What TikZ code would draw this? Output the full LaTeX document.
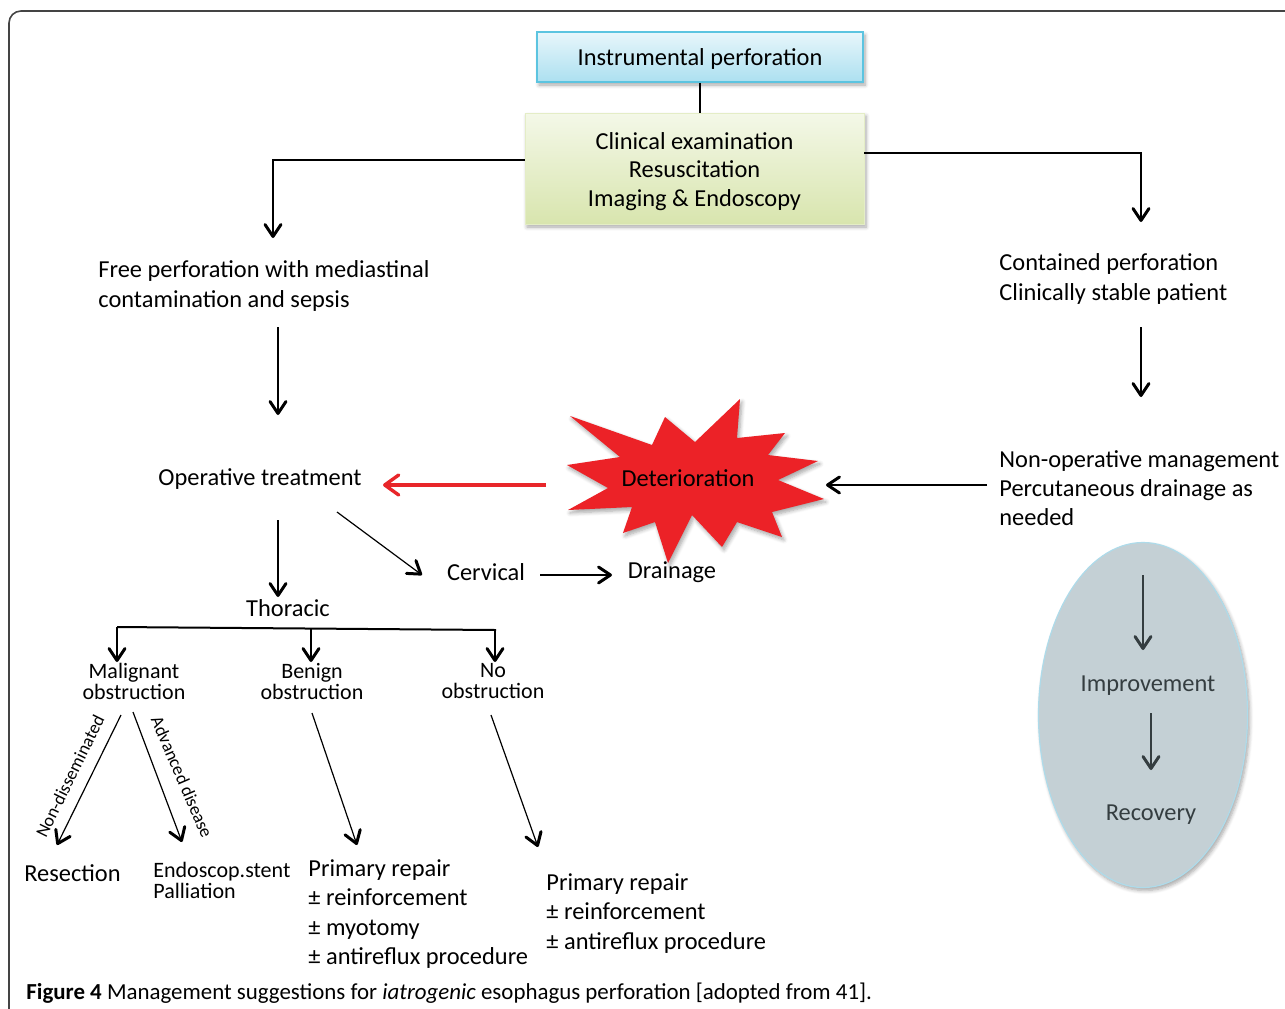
\documentclass[tikz,border=0pt]{standalone}
\usepackage{fontspec}
\setmainfont{Carlito}
\usetikzlibrary{arrows.meta,shapes.geometric,shadows,shadows.blur,calc}
\definecolor{boxA1}{HTML}{E8F6FB}
\definecolor{boxA2}{HTML}{ACE0F0}
\definecolor{boxAb}{HTML}{5CC4E0}
\definecolor{boxB1}{HTML}{F4F8E8}
\definecolor{boxB2}{HTML}{D8E5AE}
\definecolor{starred}{HTML}{EC2227}
\definecolor{arrred}{HTML}{E8262A}
\definecolor{ellfill}{HTML}{C4D0D5}
\definecolor{ellline}{HTML}{AEDBEA}
\definecolor{elltext}{HTML}{343D40}
\definecolor{framec}{HTML}{444444}
\newcommand\fbig{\fontsize{12.2}{14.6}\selectfont}
\newcommand\fmid{\fontsize{11}{10.5}\selectfont}
\newcommand\fsml{\fontsize{9}{10}\selectfont}
\tikzset{
  txt/.style={inner sep=0pt, font=\fbig, align=left},
  ctxt/.style={inner sep=0pt, font=\fmid, align=center},
  arr/.style={line width=0.6pt, -{Straight Barb[length=6pt,width=8pt,line width=1.5pt,round]}},
  barr/.style={line width=1pt, -{Straight Barb[length=6pt,width=8pt,line width=1.5pt,round]}},
  rarr/.style={line width=1.8pt, draw=arrred, -{Straight Barb[length=7pt,width=10pt,line width=1.7pt,round]}},
  garr/.style={line width=1pt, draw=elltext, -{Straight Barb[length=6pt,width=8pt,line width=1.5pt,round]}},
  shad/.style={blur shadow={shadow blur steps=6, shadow xshift=1pt, shadow yshift=-1.5pt, shadow opacity=35}},
}
\begin{document}
\begin{tikzpicture}[x=0.5pt,y=-0.5pt]
\useasboundingbox (0,0) rectangle (1285,1008);
% frame
\draw[framec, line width=0.8pt, rounded corners=6pt] (9,1010) -- (9,11) -- (1290,11);

% boxes
\node[shad, draw=boxAb, line width=0.6pt, top color=boxA1, bottom color=boxA2,
      minimum width=163pt, minimum height=25pt, inner sep=0pt] (top) at (700,57) {};
\node[txt] (toptext) at (700,59) {Instrumental perforation};
\node[shad, top color=boxB1, bottom color=boxB2, draw=boxB2!70!white, line width=0.3pt,
      minimum width=169.5pt, minimum height=55.5pt, inner sep=0pt] (clin) at (694.5,168.5) {};
\node[inner sep=0pt, font=\fontsize{12.2}{14.3}\selectfont, align=center] (clintext) at (694.5,171.5)
      {Clinical examination\\Resuscitation\\Imaging \& Endoscopy};

% text nodes
\node[txt, anchor=west] (free) at (98,286) {Free perforation with mediastinal\\contamination and sepsis};
\node[txt, anchor=west] (cont) at (999,279) {Contained perforation\\Clinically stable patient};
\node[txt, anchor=west] (nonop) at (999,488) {Non-operative management\\Percutaneous drainage as\\needed};
\node[txt] (op) at (260,479.5) {Operative treatment};
\node[txt] (cerv) at (486,572.5) {Cervical};
\node[txt] (drain) at (672,572) {Drainage};
\node[txt] (thor) at (288,608.5) {Thoracic};
\node[ctxt] (mal) at (134,681.5) {Malignant\\obstruction};
\node[ctxt] (ben) at (312,681.5) {Benign\\obstruction};
\node[ctxt] (noob) at (493,681.5) {No\\obstruction};
\node[txt, anchor=west] (res) at (24,873) {Resection};
\node[inner sep=0pt, font=\fmid, align=left, anchor=west] (endo) at (153,880.5) {Endoscop.stent\\Palliation};
\node[txt, anchor=west, font=\fontsize{12.2}{14.7}\selectfont] (prim1) at (308,914) {Primary repair\\± reinforcement\\± myotomy\\± antireflux procedure};
\node[txt, anchor=west] (prim2) at (546,913.5) {Primary repair\\± reinforcement\\± antireflux procedure};

% star
\path[shad, fill=starred] (570,416) -- (652,445) -- (665,417) -- (695,442) -- (740,399) -- (737,438)
  -- (785,433) -- (768,455) -- (818,461) -- (778,480) -- (824,499) -- (772,512) -- (782,537)
  -- (737,522) -- (722,547) -- (692,515) -- (668,563) -- (655,522) -- (623,533) -- (632,507)
  -- (568,510) -- (608,488) -- (567,465) -- (620,457) -- cycle;
\node[txt] (det) at (688,478) {Deterioration};

% ellipse
\node[shad, ellipse, fill=ellfill, draw=ellline, line width=0.6pt, minimum width=104.5pt, minimum height=172.5pt] (ell) at (1143,715) {};
\node[txt, text=elltext] (impr) at (1148,685.5) {Improvement};
\node[txt, text=elltext] (recov) at (1151,814.5) {Recovery};

% coordinates
\coordinate (c1) at (273,238);
\coordinate (c2) at (1141,222);
\coordinate (starE) at (826,485);
\coordinate (starW) at (546,485);
\coordinate (nonopL) at (987,485);
\coordinate (opR) at (383,485);

% connectors
\draw[line width=0.8pt] (top.south) -- (top.south |- clin.north);
\draw[arr] ([yshift=4.25pt]clin.west) -| (c1);
\draw[arr] ([yshift=7.75pt]clin.east) -| (c2);
\draw[arr] (278,327) -- (278,415);
\draw[arr] (1141,327) -- (1141,397);
\draw[arr] (nonopL) -- (starE);
\draw[rarr] (starW) -- (opR);
\draw[arr] (278,520) -- (278,597);
\draw[arr] (337,512) -- (422,575);
\draw[arr] (540,575) -- (612,575);
% bracket
\draw[line width=1pt] (117,627) -- (496,630);
\draw[barr] (117,627) -- (117,662);
\draw[barr] (311,628) -- (311,662);
\draw[barr] (495,630) -- (495,662);
% diagonals
\draw[arr] (121,715) -- (57,845);
\draw[arr] (133,712) -- (182,842);
\draw[arr] (312,713) -- (357,845);
\draw[arr] (491,715) -- (538,847);
\node[inner sep=0pt, font=\fsml, rotate=63.8] (nd) at (70,776) {Non-disseminated};
\node[inner sep=0pt, font=\fsml, rotate=-66.7] (ad) at (182,777) {Advanced disease};
% inside ellipse
\draw[garr] (1143,575) -- (1143,650);
\draw[garr] (1151,713) -- (1151,770);

% caption
\node[inner sep=0pt, anchor=west, font=\fontsize{11.45}{13}\selectfont] (cap) at (26,993)
  {\textbf{Figure 4} Management suggestions for \textit{iatrogenic} esophagus perforation [adopted from 41].};
\end{tikzpicture}
\end{document}
